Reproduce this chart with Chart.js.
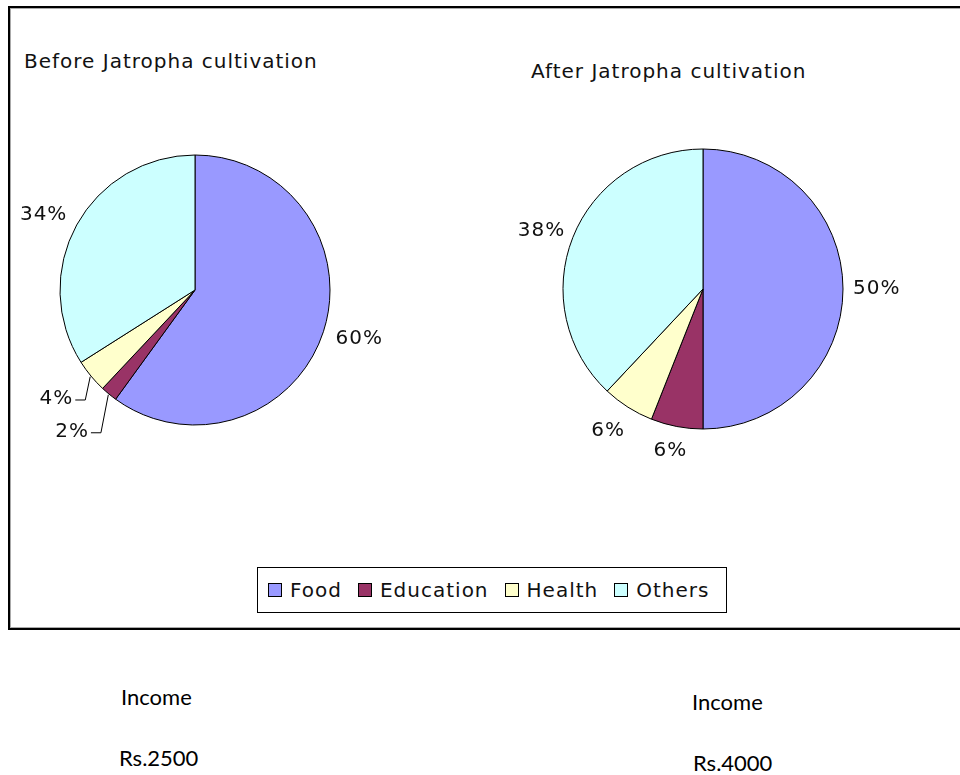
<!DOCTYPE html>
<html>
<head>
<meta charset="utf-8">
<script src="https://cdn.jsdelivr.net/npm/chart.js@4.4.0/dist/chart.umd.min.js"></script>
<style>
  html, body { margin: 0; padding: 0; background: #fff; overflow: hidden; }
  body { width: 960px; height: 775px; position: relative; }
  .frame { position: absolute; left: 8px; top: 6px; width: 1000px; height: 620px;
           border: 2px solid #000; box-shadow: inset 0 0 0 1px #aaa; box-sizing: content-box; }
  .xl { position: absolute; font: 20px "DejaVu Sans", sans-serif; letter-spacing: 1px;
        color: #111; white-space: nowrap; line-height: 1; }
  .pie { position: absolute; }
  .legend { position: absolute; left: 257px; top: 567px; width: 470px; height: 46px;
            border: 1px solid #000; display: flex; align-items: center; padding-left: 10px; box-sizing: border-box; }
  .legend .item { display: flex; align-items: center; margin-right: 16px; }
  .legend .sw { width: 12px; height: 12px; border: 1px solid #000; margin-right: 8px; }
  .legend .lbl { font: 20px "DejaVu Sans", sans-serif; letter-spacing: 1px; color: #111; line-height: 1; }
  .note { position: absolute; font: 22px Lato, "Open Sans", sans-serif; color: #000; white-space: nowrap; line-height: 1; }
</style>
</head>
<body>
<div class="frame"></div>
<div class="xl" id="title0" style="left:24px; top:51px;"></div>
<div class="xl" id="title1" style="left:531px; top:61px;"></div>
<div class="pie" style="left:0px; top:100px; width:390px; height:380px;"><canvas id="pieBefore"></canvas></div>
<div class="pie" style="left:493px; top:99px; width:420px; height:380px;"><canvas id="pieAfter"></canvas></div>
<div class="legend" id="legend"></div>
<div class="note" id="inc0" style="left:121px; top:686px;"></div>
<div class="note" id="amt0" style="left:119px; top:747px;"></div>
<div class="note" id="inc1" style="left:692px; top:691px;"></div>
<div class="note" id="amt1" style="left:693px; top:752px;"></div>
<script>
const categories = ['Food', 'Education', 'Health', 'Others'];
const beforeValues = [60, 2, 4, 34];
const afterValues = [50, 6, 6, 38];
const pieTitles = ['Before Jatropha cultivation', 'After Jatropha cultivation'];
const incomeCaption = 'Income';
const incomeAmounts = ['Rs.2500', 'Rs.4000'];

const sliceColors = ['#9999ff', '#993366', '#ffffcc', '#ccffff'];
// extra distance of each % label from the pie edge (px), big ones get a leader line
const beforeLabelGap = [14, 41, 28, 14];
const afterLabelGap = [10, 17, 20, 10];

document.getElementById('title0').textContent = pieTitles[0];
document.getElementById('title1').textContent = pieTitles[1];
document.getElementById('inc0').textContent = incomeCaption;
document.getElementById('inc1').textContent = incomeCaption;
document.getElementById('amt0').textContent = incomeAmounts[0];
document.getElementById('amt1').textContent = incomeAmounts[1];

document.getElementById('legend').innerHTML = categories.map((c, i) =>
  `<div class="item"><div class="sw" style="background:${sliceColors[i]}"></div><span class="lbl">${c}</span></div>`
).join('');

const pctLabels = {
  id: 'pctLabels',
  afterDatasetsDraw(chart, args, opts) {
    const ctx = chart.ctx;
    const meta = chart.getDatasetMeta(0);
    const vals = chart.data.datasets[0].data;
    ctx.save();
    ctx.font = '20px "DejaVu Sans", sans-serif';
    try { ctx.letterSpacing = '1px'; } catch {}
    ctx.fillStyle = '#111';
    ctx.strokeStyle = '#000';
    ctx.lineWidth = 1;
    ctx.textAlign = 'center';
    ctx.textBaseline = 'middle';
    meta.data.forEach((arc, i) => {
      const p = arc.getProps(['x', 'y', 'startAngle', 'endAngle', 'outerRadius'], true);
      const mid = (p.startAngle + p.endAngle) / 2;
      const dx = Math.cos(mid), dy = Math.sin(mid);
      const text = vals[i] + '%';
      const w = ctx.measureText(text).width, h = 16;
      const gap = opts.gaps[i];
      const R = p.outerRadius + gap;
      const cx = p.x + dx * R + dx * w / 2;
      const cy = p.y + dy * R + dy * h / 2;
      if (gap > 25) {
        const side = dx < 0 ? 1 : -1;
        const ax = cx + side * (w / 2 + 2);
        const bx = ax + side * 10;
        ctx.beginPath();
        ctx.moveTo(ax, cy + 1);
        ctx.lineTo(bx, cy + 1);
        ctx.lineTo(p.x + dx * (p.outerRadius + 1), p.y + dy * (p.outerRadius + 1));
        ctx.stroke();
      }
      ctx.fillText(text, cx, cy);
    });
    ctx.restore();
  }
};

function makePie(id, values, radius, gaps) {
  return new Chart(document.getElementById(id).getContext('2d'), {
    type: 'pie',
    data: {
      labels: categories,
      datasets: [{ data: values, backgroundColor: sliceColors, borderColor: '#000', borderWidth: 1, radius: radius }]
    },
    options: {
      responsive: true, maintainAspectRatio: false, animation: false, events: [],
      radius: radius,
      layout: { padding: 0 },
      plugins: { legend: { display: false }, tooltip: { enabled: false }, pctLabels: { gaps: gaps } }
    },
    plugins: [pctLabels]
  });
}

makePie('pieBefore', beforeValues, 135, beforeLabelGap);
makePie('pieAfter', afterValues, 140, afterLabelGap);
</script>
</body>
</html>
